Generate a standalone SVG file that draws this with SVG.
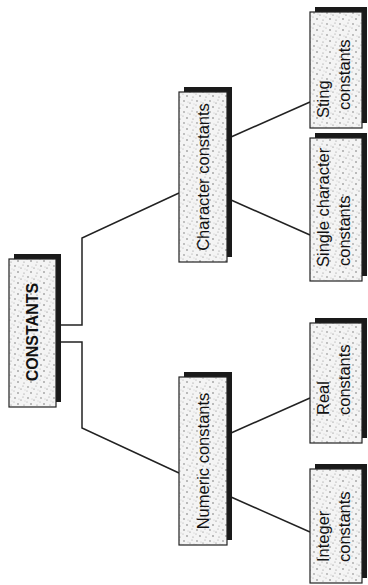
<svg xmlns="http://www.w3.org/2000/svg" width="368" height="585" viewBox="0 0 368 585">
  <defs>
    <pattern id="stipple" x="0" y="0" width="13" height="11" patternUnits="userSpaceOnUse">
      <rect width="13" height="11" fill="#f4f4f4"/>
      <circle cx="2" cy="2" r="0.7" fill="#666"/>
      <circle cx="8" cy="4" r="0.6" fill="#777"/>
      <circle cx="5" cy="8" r="0.7" fill="#555"/>
      <circle cx="11" cy="9" r="0.6" fill="#888"/>
      <circle cx="10" cy="1" r="0.5" fill="#888"/>
      <circle cx="1" cy="6" r="0.5" fill="#999"/>
      <circle cx="6" cy="3" r="0.45" fill="#999"/>
      <circle cx="12" cy="5" r="0.45" fill="#aaa"/>
    </pattern>
  </defs>
  <style>
    .shadow { fill: #1a1a1a; }
    .box { fill: url(#stipple); stroke: #222; stroke-width: 1.2; }
    .conn { fill: none; stroke: #222; stroke-width: 1.5; stroke-linejoin: miter; }
    text { font-family: "Liberation Sans", Arial, sans-serif; fill: #111; }
    .root { font-size: 16px; font-weight: bold; text-anchor: middle; }
    .mid { font-size: 16.5px; text-anchor: middle; }
    .leaf { font-size: 16.5px; text-anchor: start; }
  </style>
  <rect width="368" height="585" fill="#ffffff"/>

  <g id="connectors">
    <polyline class="conn" points="61,325 82,325 82,238 179,193"/>
    <polyline class="conn" points="61,342 82,342 82,428 179,473"/>
    <line class="conn" x1="231" y1="137" x2="310" y2="102"/>
    <line class="conn" x1="231" y1="200" x2="310" y2="235"/>
    <line class="conn" x1="231" y1="433" x2="310" y2="398"/>
    <line class="conn" x1="231" y1="497" x2="310" y2="532"/>
  </g>

  <g id="constants">
    <rect class="shadow" x="14" y="254" width="47" height="148"/>
    <rect class="box" x="9" y="259" width="47" height="148"/>
    <text class="root" transform="translate(32,332) rotate(-90)" dy="0.36em">CONSTANTS</text>
  </g>

  <g id="character-constants">
    <rect class="shadow" x="184" y="87" width="48" height="170"/>
    <rect class="box" x="179" y="92" width="48" height="170"/>
    <text class="mid" transform="translate(203,177) rotate(-90)" dy="0.36em">Character constants</text>
  </g>

  <g id="numeric-constants">
    <rect class="shadow" x="184" y="372" width="48" height="168"/>
    <rect class="box" x="179" y="377" width="48" height="168"/>
    <text class="mid" transform="translate(203,461) rotate(-90)" dy="0.36em">Numeric constants</text>
  </g>

  <g id="string-constants">
    <rect class="shadow" x="315" y="7" width="52" height="116"/>
    <rect class="box" x="310" y="12" width="52" height="116"/>
    <text class="leaf" transform="translate(329,118) rotate(-90)">Sting</text>
    <text class="leaf" transform="translate(350,110) rotate(-90)">constants</text>
  </g>

  <g id="single-character-constants">
    <rect class="shadow" x="315" y="133" width="52" height="143"/>
    <rect class="box" x="310" y="138" width="52" height="143"/>
    <text class="leaf" transform="translate(329,267) rotate(-90)">Single character</text>
    <text class="leaf" transform="translate(350,266) rotate(-90)">constants</text>
  </g>

  <g id="real-constants">
    <rect class="shadow" x="315" y="318" width="52" height="120"/>
    <rect class="box" x="310" y="323" width="52" height="120"/>
    <text class="leaf" transform="translate(329,415) rotate(-90)">Real</text>
    <text class="leaf" transform="translate(350,415) rotate(-90)">constants</text>
  </g>

  <g id="integer-constants">
    <rect class="shadow" x="315" y="464" width="52" height="114"/>
    <rect class="box" x="310" y="469" width="52" height="114"/>
    <text class="leaf" transform="translate(329,562) rotate(-90)">Integer</text>
    <text class="leaf" transform="translate(350,562) rotate(-90)">constants</text>
  </g>
</svg>
